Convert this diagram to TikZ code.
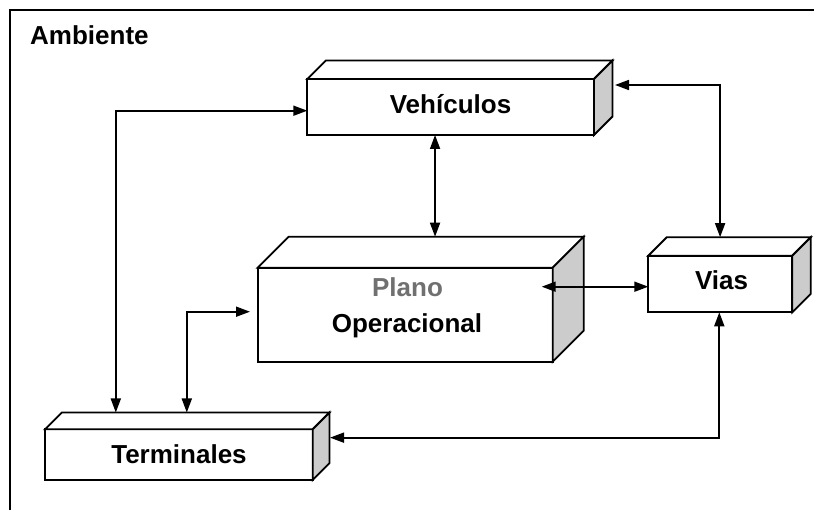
\documentclass[tikz,border=0pt]{standalone}
\usepackage{fontspec}
\setmainfont{Liberation Sans}
\usetikzlibrary{arrows.meta,calc}

\definecolor{sidegray}{RGB}{204,204,204}
\definecolor{planogray}{RGB}{112,112,112}

\tikzset{
  face/.style={draw=black, line width=1.8pt, line join=miter},
  frontface/.style={face, fill=white, rectangle, inner sep=0pt, outer sep=0pt},
  conn/.style={line width=1.7pt,
    {Triangle[length=14pt,width=10pt]}-{Triangle[length=14pt,width=10pt]}},
  lbl/.style={font=\fontsize{26}{30}\selectfont\bfseries, inner sep=0pt, anchor=base},
  frameline/.style={line width=2.2pt},
}

% \cuboid{name}{left}{top}{right}{bottom}{depth}: a box seen from the front,
% with its top face and a grey right-hand face.
\newcommand{\cuboid}[6]{%
  \node[frontface, minimum width={(#4-#2)*1pt}, minimum height={(#5-#3)*1pt}]
    (#1) at ({(#2+#4)/2},{(#3+#5)/2}) {};
  \coordinate (#1-bnw) at ($(#1.north west)+(#6,-#6)$);
  \coordinate (#1-bne) at ($(#1.north east)+(#6,-#6)$);
  \coordinate (#1-bse) at ($(#1.south east)+(#6,-#6)$);
  \filldraw[face, fill=white] (#1.north west) -- (#1-bnw) -- (#1-bne) -- (#1.north east) -- cycle;
  \filldraw[face, fill=sidegray] (#1.north east) -- (#1-bne) -- (#1-bse) -- (#1.south east) -- cycle;
}

\begin{document}
\begin{tikzpicture}[x=1pt, y=-1pt]
  \useasboundingbox (0,0) rectangle (814,510);

  % surrounding frame
  \draw[frameline] (10,512) -- (10,10) -- (816,10);
  \node[lbl, anchor=base west] (ambiente) at (30,45) {Ambiente};

  % boxes
  \cuboid{veh}{307.3}{79}{594}{135}{18.5}
  \cuboid{plano}{257.7}{267.7}{552.7}{361.7}{31}
  \cuboid{vias}{648.3}{255.7}{792.3}{312.3}{18.5}
  \cuboid{term}{45}{429.3}{312.7}{480}{16.8}

  % labels
  \node[lbl] (veh-t) at (450.5,113.3) {Vehículos};
  \node[lbl, text=planogray] (plano-t1) at (407.5,296.7) {Plano};
  \node[lbl] (plano-t2) at (407,332.3) {Operacional};
  \node[lbl] (vias-t) at (721.5,290) {Vias};
  \node[lbl] (term-t) at (179,463.3) {Terminales};

  % connectors
  \draw[conn] ([yshift=-3.7pt]veh.west) -| ($(term-bnw)+(54,0)$);
  \draw[conn] ([xshift=-7.7pt,yshift=3pt]plano.west) -| ($(term-bnw)+(125,0)$);
  \draw[conn] ([xshift=-15.6pt]veh.south) -- ([xshift=-15.6pt]veh.south |- plano-bnw);
  \draw[conn] ([xshift=-11pt,yshift=28pt]plano.east) -- ([yshift=-2.7pt]vias.west);
  \draw[conn] ([xshift=21pt,yshift=22pt]veh.east) -| ($(vias-bnw)+(53.3,0)$);
  \draw[conn] ([xshift=-1pt]vias.south) |- ([xshift=17.3pt,yshift=17pt]term.east);
\end{tikzpicture}
\end{document}
